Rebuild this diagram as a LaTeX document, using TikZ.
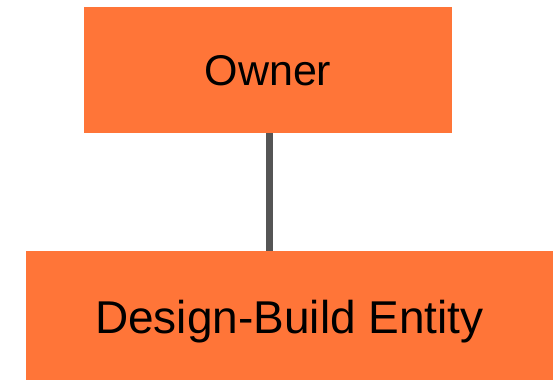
\documentclass[tikz,border=0pt]{standalone}
\usepackage{fontspec}
\setmainfont{Liberation Sans}
\definecolor{boxorange}{RGB}{255,117,56}
\definecolor{linkgray}{RGB}{85,85,85}
\begin{document}
\begin{tikzpicture}[x=1pt, y=-1pt]
        \tikzstyle{every node} = [align=center, fill=boxorange, inner sep=0pt, text=black, text depth=0pt]
        \useasboundingbox (0,0) rectangle (559,380);
        \node[minimum width=368pt, minimum height=126pt] (owner) at (268,70) {\raisebox{-1.5pt}{\fontsize{43}{50}\selectfont Owner}};
        \node[minimum width=527pt, minimum height=129pt] (dbe) at (289.5,315.5) {\raisebox{-3pt}{\fontsize{46}{54}\selectfont Design-Build Entity}};

        \path[draw=linkgray, line width=7pt] ([xshift=1pt]owner.south) -- ([xshift=1pt]owner.south |- dbe.north);
    \end{tikzpicture}
\end{document}
